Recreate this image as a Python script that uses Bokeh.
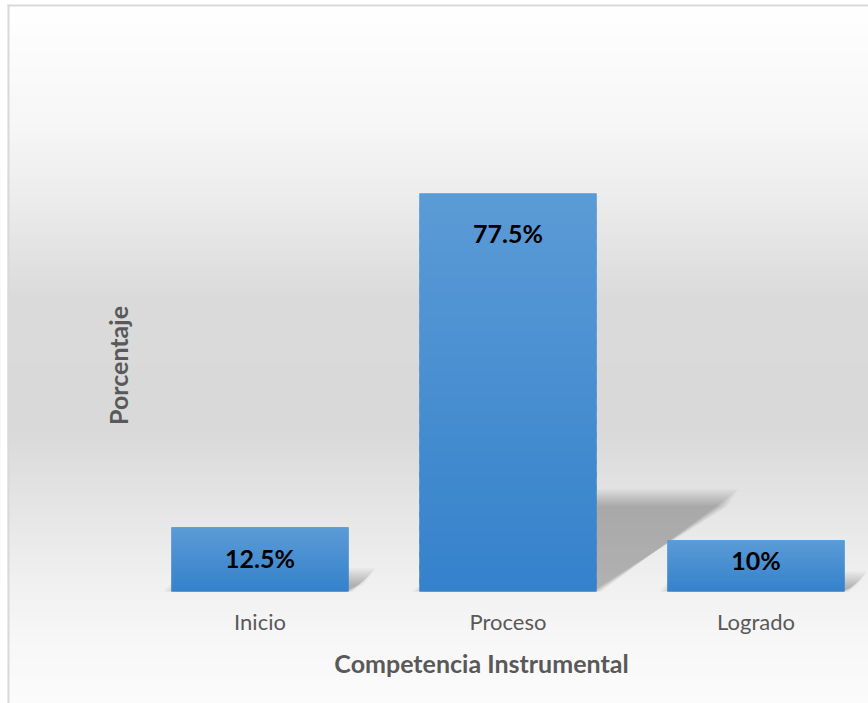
import numpy as np
from bokeh.plotting import figure
from bokeh.models import ColumnDataSource, BoxAnnotation, Label, Range1d
from bokeh.core.properties import value
from bokeh.embed import file_html
from bokeh.resources import INLINE

# ---------------- data ----------------
categories = ["Inicio", "Proceso", "Logrado"]
percentages = [12.5, 77.5, 10.0]
value_labels = ["12.5%", "77.5%", "10%"]
x_title = "Competencia Instrumental"
y_title = "Porcentaje"

# ---------------- layout helpers (pixel -> data) ----------------
W, H = 868, 703
X0_PX, X_STEP = 259.5, 248.0      # centre of first category, px between categories
Y0_PX, Y_SCALE = 591.0, 5.135     # baseline pixel, px per percentage point

def px2x(px):
    return (px - X0_PX) / X_STEP

def px2y(py):
    return (Y0_PX - py) / Y_SCALE

FONT = "Lato"
idx = list(range(len(categories)))
bar_w = 0.714

p = figure(width=W, height=H, output_backend="svg", toolbar_location=None,
           x_range=Range1d(px2x(0), px2x(W)), y_range=Range1d(px2y(H), px2y(0)),
           min_border=0, min_border_left=0, min_border_right=0,
           min_border_top=0, min_border_bottom=0,
           x_axis_location=None, y_axis_location=None)
p.grid.visible = False
p.outline_line_color = None
p.background_fill_color = "white"
p.border_fill_color = "white"

# ---------------- background gradient ----------------
stops_py = [0, 120, 200, 300, 430, 500, 580, 650, 703]
stops_g = [255, 247, 236, 218, 217, 228, 240, 248, 251]
step = 4
for py in range(0, H, step):
    g = int(round(np.interp(py + step / 2, stops_py, stops_g)))
    col = "#%02x%02x%02x" % (g, g, g)
    p.add_layout(BoxAnnotation(top=px2y(py - 0.5), bottom=px2y(py + step + 0.5),
                               fill_color=col, fill_alpha=1.0, line_color=None,
                               level="underlay"))
# white margin outside the chart area
p.add_layout(BoxAnnotation(right=px2x(7), fill_color="white", fill_alpha=1.0,
                           line_color=None, level="underlay"))
p.add_layout(BoxAnnotation(bottom=px2y(4), fill_color="white", fill_alpha=1.0,
                           line_color=None, level="underlay"))
# chart border (left and top)
p.add_layout(BoxAnnotation(left=px2x(7), right=px2x(9), top=px2y(4),
                           fill_color="#d9d9d9", fill_alpha=1.0, line_color=None,
                           level="underlay"))
p.add_layout(BoxAnnotation(left=px2x(7), top=px2y(4), bottom=px2y(6),
                           fill_color="#d9d9d9", fill_alpha=1.0, line_color=None,
                           level="underlay"))

# ---------------- perspective shadows (soft, layered) ----------------
SH_SHIFT = 1.77 / X_STEP   # horizontal shift per percentage point (data x units)
SH_RATIO = 0.236           # shadow height relative to bar height
xs_all, ys_all = [], []
for d in [-8, -6, -4, -2, 0, 2, 4, 6, 8]:
    dx, dy = d / X_STEP, d / Y_SCALE
    for c, v in zip(idx, percentages):
        sx, h = v * SH_SHIFT, v * SH_RATIO
        if h + dy <= 0.3:
            continue
        xs_all.append([c - bar_w / 2 - dx, c + bar_w / 2 + dx * 0.6,
                       c + bar_w / 2 + sx + dx * 0.6, c - bar_w / 2 + sx - dx])
        ys_all.append([0, 0, h + dy, h + dy])
p.patches(xs=xs_all, ys=ys_all, fill_color="black", fill_alpha=0.03, line_color=None)

# ---------------- bars ----------------
src = ColumnDataSource(dict(x=idx, top=percentages, cat=categories))
p.vbar(x="x", top="top", bottom=0, width=bar_w, source=src,
       fill_color="#4a8fd2", line_color=None)

# vertical gradient overlay for each bar
top_rgb = np.array([91, 155, 214])
bot_rgb = np.array([52, 129, 203])
N = 30
gx, gt, gb, gc = [], [], [], []
for c, v in zip(idx, percentages):
    for k in range(N):
        t = (k + 0.5) / N
        rgb = bot_rgb + (top_rgb - bot_rgb) * t
        gx.append(c)
        gb.append(max(0.0, v * k / N - v * 0.4 / N))
        gt.append(v * (k + 1) / N)
        gc.append("#%02x%02x%02x" % tuple(int(round(u)) for u in rgb))
p.vbar(x=gx, top=gt, bottom=gb, width=bar_w, fill_color=gc, line_color=None)

# ---------------- value labels (inside end, centred for short bars) ----------------
label_y = [max(v - 7.6, 4.48 + 0.156 * v) for v in percentages]
p.text(x=idx, y=label_y, text=value_labels, text_font=value(FONT),
       text_font_style="bold", text_font_size="25px", text_color="black",
       text_align="center", text_baseline="middle")

# ---------------- category labels & titles ----------------
p.text(x=idx, y=[px2y(621)] * len(idx), text=categories, text_font=value(FONT),
       text_font_size="22px", text_color="#595959",
       text_align="center", text_baseline="middle")

p.add_layout(Label(x=px2x(481), y=px2y(662), text=x_title, text_font=FONT,
                   text_font_style="bold", text_font_size="25px",
                   text_color="#595959", text_align="center",
                   text_baseline="middle"))
p.add_layout(Label(x=px2x(117), y=px2y(365), text=y_title, text_font=FONT,
                   text_font_style="bold", text_font_size="25px",
                   text_color="#595959", text_align="center",
                   text_baseline="middle", angle=np.pi / 2))

open("out.html", "w").write(file_html(p, INLINE))
